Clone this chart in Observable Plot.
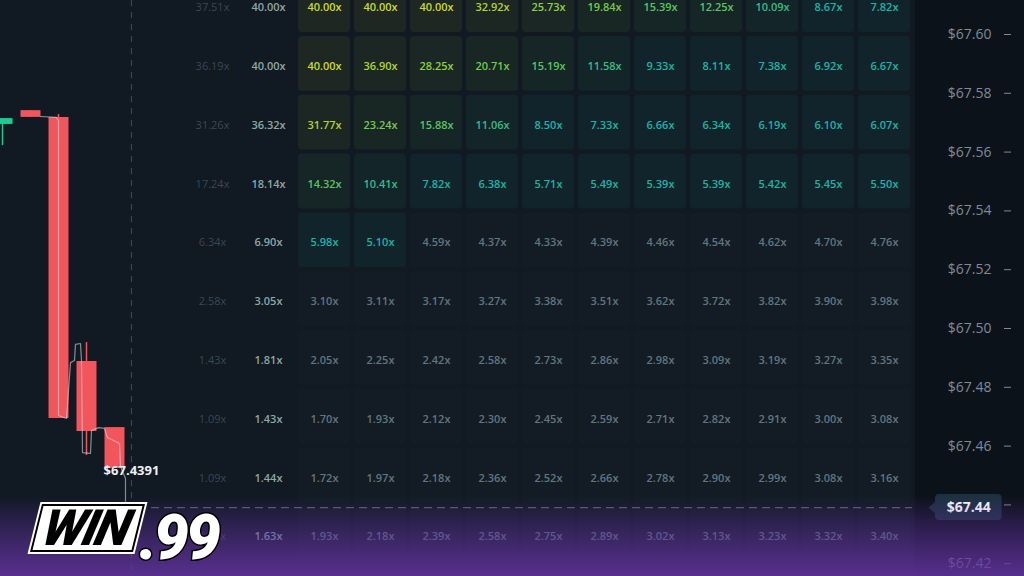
<!DOCTYPE html>
<html><head><meta charset="utf-8">
<script src="https://cdn.jsdelivr.net/npm/d3@7"></script>
<script src="https://cdn.jsdelivr.net/npm/@observablehq/plot@0.6"></script>
<style>
html,body{margin:0;padding:0;background:#111922;overflow:hidden}
#wrap{position:relative;width:1024px;height:576px;overflow:hidden}
#wrap svg{display:block;overflow:hidden}
#fade{position:absolute;left:0;top:496px;width:1024px;height:80px;pointer-events:none;
 background:linear-gradient(to bottom,rgba(96,48,165,0) 0%,rgba(96,48,165,0.3) 30%,rgba(98,50,160,0.6) 65%,rgba(100,52,160,0.85) 100%)}
#logo{position:absolute;left:36px;top:499px;pointer-events:none;font-family:Roboto,"DejaVu Sans",sans-serif;font-weight:900;font-style:italic;white-space:nowrap}
#logo .win{display:inline-block;background:#fff;color:#000;font-size:50px;line-height:44px;padding:0 8px 0 6px;transform:skewX(-14deg);border:2px solid #000;box-shadow:0 0 0 2px #fff;letter-spacing:-2px}
#logo .nn{display:inline-block;color:#fff;font-size:62px;line-height:50px;-webkit-text-stroke:3px #000;paint-order:stroke fill;transform:translateY(14px);margin-left:0px;letter-spacing:-3px}
</style></head><body>
<div id="wrap"><div id="chart"></div><div id="fade"></div>
<div id="logo"><span class="win">WIN</span><span class="nn">.99</span></div></div>
<script>
// ---- data ----
const rowPrices = [67.61, 67.59, 67.57, 67.55, 67.53, 67.51, 67.49, 67.47, 67.45, 67.43];
const colTimes = [7.5, 9.5, 11.5, 13.5, 15.5, 17.5, 19.5, 21.5, 23.5, 25.5, 27.5, 29.5, 31.5];
const pastOld    = [37.51, 36.19, 31.26, 17.24, 6.34, 2.58, 1.43, 1.09, 1.09, 1.25];
const pastRecent = [40.00, 40.00, 36.32, 18.14, 6.90, 3.05, 1.81, 1.43, 1.44, 1.63];
const row6761 = [40.00, 40.00, 40.00, 32.92, 25.73, 19.84, 15.39, 12.25, 10.09, 8.67, 7.82];
const row6759 = [40.00, 36.90, 28.25, 20.71, 15.19, 11.58, 9.33, 8.11, 7.38, 6.92, 6.67];
const row6757 = [31.77, 23.24, 15.88, 11.06, 8.50, 7.33, 6.66, 6.34, 6.19, 6.10, 6.07];
const row6755 = [14.32, 10.41, 7.82, 6.38, 5.71, 5.49, 5.39, 5.39, 5.42, 5.45, 5.50];
const row6753 = [5.98, 5.10, 4.59, 4.37, 4.33, 4.39, 4.46, 4.54, 4.62, 4.70, 4.76];
const row6751 = [3.10, 3.11, 3.17, 3.27, 3.38, 3.51, 3.62, 3.72, 3.82, 3.90, 3.98];
const row6749 = [2.05, 2.25, 2.42, 2.58, 2.73, 2.86, 2.98, 3.09, 3.19, 3.27, 3.35];
const row6747 = [1.70, 1.93, 2.12, 2.30, 2.45, 2.59, 2.71, 2.82, 2.91, 3.00, 3.08];
const row6745 = [1.72, 1.97, 2.18, 2.36, 2.52, 2.66, 2.78, 2.90, 2.99, 3.08, 3.16];
const row6743 = [1.93, 2.18, 2.39, 2.58, 2.75, 2.89, 3.02, 3.13, 3.23, 3.32, 3.40];
const gridRows = [row6761, row6759, row6757, row6755, row6753, row6751, row6749, row6747, row6745, row6743];
const yTicks = [67.42, 67.44, 67.46, 67.48, 67.50, 67.52, 67.54, 67.56, 67.58, 67.60];

const candleT     = [0, 1, 2, 3, 4];
const candleOpen  = [67.5694, 67.5741, 67.5718, 67.4888, 67.4663];
const candleClose = [67.5714, 67.5718, 67.4694, 67.4650, 67.4524];
const candleHigh  = [67.5714, 67.5741, 67.5728, 67.4952, 67.4663];
const candleLow   = [67.5622, 67.5718, 67.4694, 67.4568, 67.4524];

const pathT = [1.357, 1.929, 2.0, 2.0, 2.286, 2.429, 2.571, 2.607, 2.786, 2.821, 2.857, 3.143, 3.179, 3.429, 3.643, 3.75, 4.179, 4.214, 4.393, 4.393];
const pathP = [67.5721, 67.5718, 67.5707, 67.4704, 67.4694, 67.4884, 67.4891, 67.4946, 67.4949, 67.4891, 67.4578, 67.4575, 67.4653, 67.4663, 67.4660, 67.4629, 67.4609, 67.4531, 67.4490, 67.4391];

const currentPrice = 67.4391;
const nowT = 4.607;

// ---- derived tables ----
const xDomain = [-1/14, 36.5];
const yDomain = [67.41565, 67.61156];
const rowHalf = 0.01, colHalf = 1;
const cells = [];
gridRows.forEach((row, i) => row.forEach((v, j) => cells.push({t: colTimes[j + 2], p: rowPrices[i], value: v})));
const old = pastOld.map((v, i) => ({t: colTimes[0], p: rowPrices[i], value: v}));
const recent = pastRecent.map((v, i) => ({t: colTimes[1], p: rowPrices[i], value: v}));
const candles = candleT.map((t, i) => ({t, open: candleOpen[i], close: candleClose[i], high: candleHigh[i], low: candleLow[i]}));
const down = candles.filter(d => d.close < d.open);
const up = candles.filter(d => d.close >= d.open);
const path = pathT.map((t, i) => ({t, p: pathP[i]}));
const gridEnd = colTimes[colTimes.length - 1] + colHalf;
const panelStart = gridEnd + 0.1;
const boxX1 = panelStart + 0.72, boxX2 = xDomain[1] - 0.8, tipX = panelStart + 0.47;
const boxH = 0.0044;
const arrow = [
  {t: tipX, p: currentPrice},
  {t: boxX1 + 0.05, p: currentPrice + boxH * 0.55},
  {t: boxX1 + 0.05, p: currentPrice - boxH * 0.55}
];
const fmtX = v => v.toFixed(2) + "x";
const currentLabel = currentPrice.toFixed(2);

const chart = Plot.plot({
  width: 1024, height: 576, margin: 0,
  style: {background: "#111922", fontFamily: "'Open Sans', sans-serif", fontSize: "11px", overflow: "hidden"},
  x: {domain: xDomain, axis: null},
  y: {domain: yDomain, axis: null},
  opacity: {type: "identity"},
  color: {type: "threshold", domain: [5, 9.5, 12, 18, 25, 30, 38],
          range: ["#62767f", "#1fb3a6", "#38bc86", "#5ac463", "#74cb47", "#90d13d", "#acd535", "#c9db2b"]},
  marks: [
    // right axis panel
    Plot.rect([0], {x1: panelStart, x2: xDomain[1], y1: yDomain[0], y2: yDomain[1], fill: "#0c1219"}),
    // multiplier cells
    Plot.rect(cells, {x1: d => d.t - colHalf, x2: d => d.t + colHalf, y1: d => d.p - rowHalf, y2: d => d.p + rowHalf,
      inset: 2, rx: 4, fill: "value", fillOpacity: d => d.value >= 5 ? 0.075 : 0.03}),
    Plot.text(cells, {x: "t", y: "p", dy: 2.5, text: d => fmtX(d.value), fill: "value", fontWeight: 600, fontSize: 11}),
    Plot.text(old, {x: "t", y: "p", dy: 2.5, text: d => fmtX(d.value), fill: "#3a4853", fontSize: 11}),
    Plot.text(recent, {x: "t", y: "p", dy: 2.5, text: d => fmtX(d.value), fill: "#8ea8a4", fontWeight: 600, fontSize: 11}),
    // now line
    Plot.ruleX([nowT], {stroke: "#3a4550", strokeDasharray: "6,6", strokeWidth: 1.2}),
    // candles
    Plot.ruleX(down, {x: "t", y1: "low", y2: "high", strokeWidth: 1.5, stroke: "#f2555c"}),
    Plot.ruleX(up, {x: "t", y1: "low", y2: "high", strokeWidth: 1.5, stroke: "#1fc993"}),
    Plot.ruleX(down, {x: "t", y1: "open", y2: "close", strokeWidth: 20, stroke: "#f2555c"}),
    Plot.ruleX(up, {x: "t", y1: "open", y2: "close", strokeWidth: 20, stroke: "#1fc993"}),
    // price path
    Plot.line(path, {x: "t", y: "p", stroke: "#d4d8dc", strokeWidth: 1.2, strokeOpacity: 0.6}),
    // current price line
    Plot.ruleY([currentPrice], {x1: pathT[pathT.length - 1], x2: gridEnd, stroke: "#56616b", strokeDasharray: "8,5", strokeWidth: 1.2}),
    Plot.text([currentPrice], {x: nowT, y: d => d, dy: -37, text: d => "$" + d.toFixed(4), fill: "#eef1f3", fontWeight: 700, fontSize: 13}),
    // y axis on the right (the current-price tick is labelled by the callout)
    Plot.axisY({ticks: yTicks, anchor: "left", dx: 1011, tickSize: 7, tickPadding: 13, label: null,
      tickFormat: d => d.toFixed(2) === currentLabel ? "" : "$" + d.toFixed(2), color: "#7f8b97", fontSize: 14}),
    // current price callout
    Plot.line(arrow, {x: "t", y: "p", fill: "#1c3140", stroke: null}),
    Plot.rect([currentPrice], {x1: boxX1, x2: boxX2, y1: d => d - boxH, y2: d => d + boxH, rx: 4, fill: "#1c3140"}),
    Plot.text([currentPrice], {x: (boxX1 + boxX2) / 2, y: d => d, text: d => "$" + d.toFixed(2), fill: "#ffffff", fontWeight: 700, fontSize: 14})
  ]
});
document.getElementById("chart").append(chart);
</script>
</body></html>
